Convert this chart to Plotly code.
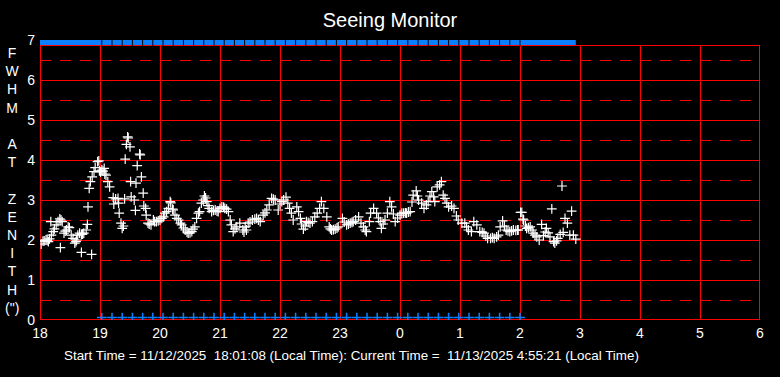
import plotly.graph_objects as go

# ---------------- data ----------------
hour_ticks = [18, 19, 20, 21, 22, 23, 24, 25, 26, 27, 28, 29, 30]
hour_labels = ["18", "19", "20", "21", "22", "23", "0", "1", "2", "3", "4", "5", "6"]
fwhm_ticks = [0, 1, 2, 3, 4, 5, 6, 7]

fwhm_hours = [
    18.02, 18.05, 18.07, 18.10, 18.12, 18.14, 18.16, 18.18, 18.19, 18.22, 18.24, 18.27, 18.30, 18.33, 18.34,
    18.35, 18.37, 18.40, 18.42, 18.44, 18.47, 18.49, 18.52, 18.55, 18.58, 18.60, 18.61, 18.63, 18.66, 18.69,
    18.69, 18.71, 18.73, 18.77, 18.79, 18.80, 18.82, 18.84, 18.86, 18.87, 18.90, 18.92, 18.96, 18.98, 18.99,
    19.01, 19.03, 19.05, 19.07, 19.08, 19.10, 19.13, 19.16, 19.22, 19.23, 19.26, 19.30, 19.31, 19.32, 19.35,
    19.37, 19.39, 19.41, 19.42, 19.44, 19.46, 19.47, 19.50, 19.51, 19.52, 19.57, 19.59, 19.60, 19.62, 19.66,
    19.67, 19.69, 19.72, 19.73, 19.76, 19.77, 19.80, 19.82, 19.85, 19.89, 19.91, 19.94, 19.97, 20.00, 20.03,
    20.06, 20.08, 20.11, 20.14, 20.17, 20.18, 20.21, 20.22, 20.25, 20.28, 20.31, 20.34, 20.36, 20.39, 20.42,
    20.45, 20.47, 20.50, 20.53, 20.55, 20.58, 20.61, 20.64, 20.66, 20.69, 20.72, 20.74, 20.76, 20.78, 20.80,
    20.82, 20.86, 20.89, 20.92, 20.95, 20.97, 21.00, 21.03, 21.06, 21.08, 21.11, 21.14, 21.17, 21.19, 21.22,
    21.25, 21.28, 21.33, 21.38, 21.40, 21.42, 21.44, 21.47, 21.50, 21.54, 21.58, 21.61, 21.64, 21.67, 21.72,
    21.75, 21.78, 21.82, 21.86, 21.89, 21.92, 21.97, 22.00, 22.03, 22.06, 22.10, 22.13, 22.16, 22.19, 22.22,
    22.28, 22.31, 22.34, 22.36, 22.39, 22.42, 22.44, 22.47, 22.50, 22.54, 22.58, 22.62, 22.66, 22.69, 22.73,
    22.78, 22.82, 22.84, 22.86, 22.89, 22.92, 22.95, 22.97, 23.04, 23.07, 23.11, 23.14, 23.17, 23.20, 23.22,
    23.26, 23.31, 23.35, 23.39, 23.42, 23.44, 23.49, 23.51, 23.56, 23.61, 23.64, 23.67, 23.69, 23.72, 23.75,
    23.79, 23.83, 23.86, 23.89, 23.92, 23.96, 24.00, 24.03, 24.06, 24.09, 24.11, 24.14, 24.17, 24.20, 24.22,
    24.27, 24.29, 24.31, 24.36, 24.40, 24.44, 24.47, 24.50, 24.53, 24.56, 24.58, 24.62, 24.66, 24.69, 24.72,
    24.75, 24.78, 24.81, 24.86, 24.90, 24.94, 24.97, 25.03, 25.08, 25.11, 25.14, 25.19, 25.23, 25.28, 25.33,
    25.37, 25.40, 25.43, 25.46, 25.51, 25.54, 25.57, 25.61, 25.64, 25.67, 25.71, 25.74, 25.77, 25.80, 25.83,
    25.86, 25.89, 25.93, 25.96, 25.97, 26.01, 26.03, 26.05, 26.06, 26.09, 26.11, 26.14, 26.17, 26.20, 26.22,
    26.25, 26.28, 26.32, 26.36, 26.39, 26.42, 26.44, 26.47, 26.50, 26.53, 26.56, 26.58, 26.61, 26.63, 26.67,
    26.70, 26.72, 26.75, 26.79, 26.83, 26.86, 26.89, 26.93,
]
fwhm_values = [
    1.90, 1.97, 1.98, 2.00, 1.99, 1.96, 2.03, 2.46, 2.12, 2.21, 2.28, 2.38, 2.46, 2.53, 1.81,
    2.50, 2.46, 2.17, 2.22, 2.25, 2.33, 2.31, 2.12, 2.04, 1.92, 1.96, 2.00, 2.12, 2.17, 2.14,
    1.69, 2.15, 2.17, 2.25, 2.39, 2.83, 3.29, 3.46, 1.64, 3.58, 3.71, 3.81, 3.96, 3.98, 3.73,
    3.70, 3.75, 3.72, 3.79, 3.65, 3.62, 3.46, 3.33, 3.06, 2.90, 3.03, 3.04, 2.92, 2.67, 2.42,
    2.29, 2.35, 3.03, 4.02, 4.39, 4.58, 4.55, 4.33, 3.46, 3.08, 3.00, 2.74, 3.42, 3.86, 4.15,
    4.13, 3.58, 3.17, 2.85, 2.79, 2.62, 2.42, 2.40, 2.38, 2.50, 2.46, 2.46, 2.48, 2.50, 2.54,
    2.58, 2.67, 2.71, 2.79, 2.96, 2.93, 2.77, 2.75, 2.62, 2.54, 2.50, 2.42, 2.38, 2.30, 2.25,
    2.20, 2.17, 2.18, 2.21, 2.27, 2.33, 2.54, 2.67, 2.71, 2.92, 3.00, 3.10, 3.05, 2.96, 2.86,
    2.79, 2.71, 2.74, 2.75, 2.72, 2.71, 2.79, 2.83, 2.82, 2.79, 2.77, 2.71, 2.50, 2.38, 2.21,
    2.28, 2.33, 2.42, 2.25, 2.20, 2.33, 2.25, 2.42, 2.45, 2.50, 2.52, 2.54, 2.50, 2.46, 2.62,
    2.68, 2.75, 2.88, 3.04, 3.02, 3.00, 2.75, 2.90, 2.96, 3.00, 3.07, 2.92, 2.79, 2.67, 2.50,
    2.83, 2.71, 2.54, 2.40, 2.27, 2.35, 2.46, 2.44, 2.42, 2.46, 2.58, 2.67, 2.79, 2.96, 2.79,
    2.58, 2.33, 2.28, 2.25, 2.26, 2.27, 2.30, 2.33, 2.54, 2.45, 2.38, 2.40, 2.42, 2.44, 2.46,
    2.50, 2.58, 2.42, 2.33, 2.25, 2.21, 2.46, 2.67, 2.79, 2.67, 2.55, 2.46, 2.29, 2.40, 2.50,
    2.67, 2.96, 2.83, 2.65, 2.46, 2.55, 2.62, 2.67, 2.67, 2.68, 2.67, 2.70, 2.71, 2.95, 3.12,
    3.23, 3.10, 3.00, 2.92, 2.79, 2.88, 2.96, 3.10, 3.21, 3.08, 2.96, 3.33, 3.38, 3.46, 3.12,
    3.04, 2.92, 2.83, 2.85, 2.79, 2.60, 2.50, 2.42, 2.42, 2.33, 2.25, 2.21, 2.46, 2.38, 2.21,
    2.19, 2.17, 2.10, 2.04, 2.04, 2.06, 2.04, 2.08, 2.12, 2.33, 2.48, 2.35, 2.25, 2.23, 2.21,
    2.23, 2.25, 2.24, 2.25, 2.25, 2.69, 2.69, 2.52, 2.50, 2.35, 2.29, 2.31, 2.33, 2.25, 2.17,
    2.12, 2.08, 2.00, 2.39, 2.11, 2.20, 2.29, 2.18, 2.08, 2.78, 1.96, 1.92, 1.98, 2.04, 2.14,
    3.35, 2.19, 2.54, 2.42, 2.12, 2.72, 2.12, 2.02,
]

# blue status marks (every ~10 minutes) and the top status band
flag_hours = [
    19.03, 19.20, 19.37, 19.54, 19.71, 19.88, 20.05, 20.22, 20.39, 20.56, 20.73, 20.90, 21.07, 21.24,
    21.41, 21.58, 21.75, 21.92, 22.09, 22.26, 22.43, 22.60, 22.77, 22.94, 23.11, 23.28, 23.45, 23.62,
    23.79, 23.96, 24.13, 24.30, 24.47, 24.64, 24.81, 24.98, 25.15, 25.32, 25.49, 25.66, 25.83, 26.00,
]
flag_level_bottom = 0.06
band_hours = [18.0, 26.93]
band_level = 7.0

start_text = "11/12/2025\u00a0\u00a018:01:08"
current_text = "11/13/2025 4:55:21"

# ---------------- figure ----------------
RED = "#ff0000"
BLUE = "#0a80ff"
FONT = "Liberation Sans, Arial, sans-serif"
TOP = 6.875
PX_X = 0.5 / 60.0   # half a pixel in hours (crisp 1px lines)
PX_Y = 0.5 / 40.0   # half a pixel in FWHM units

fig = go.Figure()

# top status band
fig.add_trace(go.Scatter(
    x=band_hours, y=[band_level] * len(band_hours), mode="lines",
    line=dict(color=BLUE, width=10), hoverinfo="skip", showlegend=False,
))
fig.add_trace(go.Scatter(
    x=flag_hours, y=[band_level - 0.06] * len(flag_hours), mode="markers",
    marker=dict(symbol="line-ns", size=5, line=dict(color="black", width=1)),
    hoverinfo="skip", showlegend=False, cliponaxis=True,
))

# bottom blue marks
fig.add_trace(go.Scatter(
    x=flag_hours, y=[flag_level_bottom] * len(flag_hours), mode="markers",
    marker=dict(symbol="cross-thin", size=7, line=dict(color=BLUE, width=1.5)),
    showlegend=False, cliponaxis=True,
))

# FWHM data
fig.add_trace(go.Scatter(
    x=fwhm_hours, y=fwhm_values, mode="markers",
    marker=dict(symbol="cross-thin", size=7, line=dict(color="white", width=1.2)),
    showlegend=False,
))

LW = 1
shapes = []
# vertical grid lines and borders
for h in hour_ticks:
    xx = h + PX_X if h < 30 else h - PX_X
    shapes.append(dict(type="line", xref="x", yref="y", x0=xx, x1=xx, y0=0, y1=TOP,
                       line=dict(color=RED, width=LW), layer="below"))
# horizontal solid lines
for v in fwhm_ticks[:-1]:
    yy = v - PX_Y if v > 0 else v + PX_Y
    shapes.append(dict(type="line", xref="x", yref="y", x0=18, x1=30, y0=yy, y1=yy,
                       line=dict(color=RED, width=LW), layer="below"))
shapes.append(dict(type="line", xref="x", yref="y", x0=18, x1=30, y0=TOP - PX_Y, y1=TOP - PX_Y,
                   line=dict(color=RED, width=LW), layer="below"))
# dashed half lines
for v in fwhm_ticks[:-1]:
    yy = v + 0.5 - PX_Y
    shapes.append(dict(type="line", xref="x", yref="y", x0=18, x1=30, y0=yy, y1=yy,
                       line=dict(color=RED, width=LW, dash="11px,9px"), layer="below"))

ylabel = "<br>".join(["F", "W", "H", "M", "\u00a0", "A", "T", "\u00a0", "Z", "E", "N", "I", "T", "H", "(\")"])

fig.update_layout(
    width=780, height=377,
    margin=dict(l=40, r=20, t=40, b=57),
    paper_bgcolor="black", plot_bgcolor="black",
    font=dict(family=FONT, color="white", size=14),
    title=dict(text="Seeing Monitor", x=0.5, xanchor="center", y=0.947, yanchor="middle",
               font=dict(size=20, color="white", family=FONT)),
    xaxis=dict(range=[18, 30], tickvals=hour_ticks, ticktext=hour_labels, showgrid=False,
               zeroline=False, showline=False, ticks="", tickfont=dict(size=14, color="white"),
               ticklabelstandoff=3, fixedrange=True),
    yaxis=dict(range=[0, 7], tickvals=fwhm_ticks, showgrid=False, zeroline=False, showline=False,
               ticks="", tickfont=dict(size=14, color="white"), ticklabelstandoff=4, fixedrange=True),
    shapes=shapes,
    annotations=[
        dict(text=ylabel, xref="paper", yref="paper", x=-0.038, y=0.5, xanchor="center",
             yanchor="middle", showarrow=False, align="center",
             font=dict(size=14, color="white", family=FONT)),
        dict(text="Start Time = " + start_text + " (Local Time): Current Time =\u00a0 " + current_text + " (Local Time)",
             xref="paper", yref="paper", x=(62 - 40) / 720, y=-(355 - 320) / 280,
             xanchor="left", yanchor="middle", showarrow=False,
             font=dict(size=13.4, color="white", family=FONT)),
    ],
    showlegend=False,
)

fig.write_html("out.html", config={"displayModeBar": False},
               post_script="document.body.style.margin='0';document.body.style.background='black';")
